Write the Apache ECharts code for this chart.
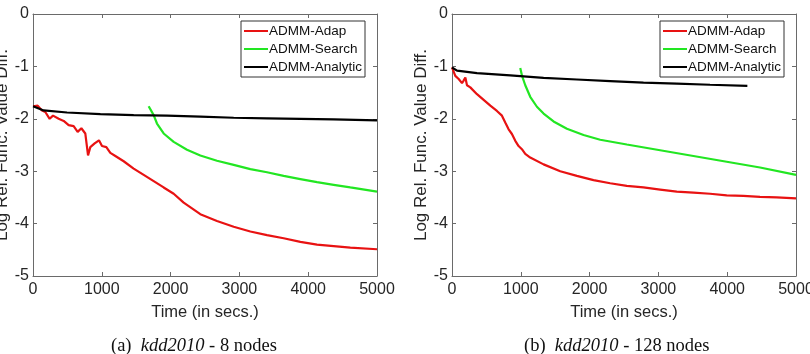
<!DOCTYPE html>
<html>
<head>
<meta charset="utf-8">
<script src="https://cdn.jsdelivr.net/npm/echarts@6/dist/echarts.min.js"></script>
<style>
  html, body { margin: 0; padding: 0; background: #fff; }
  #chart { width: 810px; height: 354px; }
</style>
</head>
<body>
<div id="chart"></div>
<script>
// 刻度
var xTicks = [0, 1000, 2000, 3000, 4000, 5000];
var yTicks = [-5, -4, -3, -2, -1, 0];
var seriesNames = ['ADMM-Adap', 'ADMM-Search', 'ADMM-Analytic'];

// (a) kdd2010 - 8 nodes : [time, log rel. diff]
var adap8 = [[0,-1.76],[68,-1.75],[131,-1.84],[179,-1.87],[242,-2.0],[291,-1.94],[373,-2.0],[446,-2.04],
  [518,-2.12],[591,-2.14],[649,-2.25],[703,-2.18],[760,-2.28],[800,-2.7],[833,-2.54],[896,-2.47],
  [959,-2.41],[1003,-2.52],[1066,-2.54],[1124,-2.65],[1197,-2.71],[1318,-2.81],[1463,-2.95],
  [1609,-3.07],[1754,-3.19],[1899,-3.31],[2045,-3.43],[2190,-3.6],[2432,-3.82],[2674,-3.95],
  [2917,-4.06],[3159,-4.15],[3401,-4.22],[3643,-4.28],[3886,-4.35],[4128,-4.4],[4370,-4.43],
  [4612,-4.46],[5000,-4.49]];
var search8 = [[1681,-1.76],[1754,-1.93],[1802,-2.09],[1899,-2.28],[2045,-2.44],[2238,-2.59],
  [2432,-2.7],[2674,-2.8],[2917,-2.88],[3159,-2.96],[3401,-3.02],[3643,-3.09],[3886,-3.15],
  [4128,-3.21],[4370,-3.26],[4612,-3.31],[5000,-3.39]];
var analytic8 = [[0,-1.76],[155,-1.84],[494,-1.88],[979,-1.91],[1463,-1.93],[1948,-1.94],
  [2432,-1.96],[2917,-1.98],[3401,-1.99],[3886,-2.0],[4370,-2.01],[5000,-2.03]];

// (b) kdd2010 - 128 nodes
var adap128 = [[0,-1.02],[24,-1.05],[48,-1.18],[97,-1.24],[145,-1.32],[169,-1.27],[194,-1.21],
  [218,-1.36],[266,-1.4],[363,-1.53],[460,-1.64],[557,-1.75],[653,-1.85],[726,-1.94],[774,-2.07],
  [823,-2.2],[871,-2.29],[920,-2.42],[968,-2.52],[1016,-2.58],[1065,-2.67],[1137,-2.74],
  [1331,-2.87],[1573,-3.0],[1815,-3.09],[2057,-3.17],[2299,-3.23],[2541,-3.28],[2783,-3.31],
  [3025,-3.35],[3267,-3.39],[3509,-3.41],[3751,-3.43],[3993,-3.46],[4235,-3.47],[4477,-3.49],
  [4719,-3.5],[5000,-3.52]];
var search128 = [[992,-1.03],[1016,-1.17],[1065,-1.36],[1137,-1.58],[1234,-1.77],[1331,-1.9],
  [1476,-2.05],[1670,-2.19],[1912,-2.31],[2154,-2.4],[2541,-2.49],[3025,-2.6],[3509,-2.71],
  [3993,-2.82],[4477,-2.93],[5000,-3.07]];
var analytic128 = [[0,-1.02],[73,-1.08],[363,-1.13],[847,-1.17],[1331,-1.22],[1815,-1.25],
  [2299,-1.28],[2783,-1.31],[3267,-1.33],[3751,-1.35],[4293,-1.37]];

var colors = ['#e81212', '#22e622', '#000000'];
var axisColor = '#6a6a6a';
var textColor = '#262626';
var sans = 'Liberation Sans';

var myChart = echarts.init(document.getElementById('chart'));

function xAx(grid, pos) {
  var main = pos === 'bottom';
  return {
    type: 'value', gridIndex: grid, position: pos,
    min: xTicks[0], max: xTicks[xTicks.length - 1], interval: 1000,
    name: main ? 'Time (in secs.)' : '', nameLocation: 'middle', nameGap: 28,
    nameTextStyle: { fontFamily: sans, fontSize: 16.5, color: textColor },
    axisLine: { show: true, onZero: false, lineStyle: { color: axisColor, width: 1 } },
    axisTick: { show: true, inside: true, length: 4, lineStyle: { color: axisColor } },
    axisLabel: { show: main, fontFamily: sans, fontSize: 16, color: textColor, margin: 6,
      showMaxLabel: true, showMinLabel: true,
      formatter: function (v) { return String(v); } },
    splitLine: { show: false }
  };
}
function yAx(grid, pos) {
  var main = pos === 'left';
  return {
    type: 'value', gridIndex: grid, position: pos,
    min: yTicks[0], max: yTicks[yTicks.length - 1], interval: 1,
    name: main ? 'Log Rel. Func. Value Diff.' : '', nameLocation: 'middle', nameGap: 22,
    nameTextStyle: { fontFamily: sans, fontSize: 17, color: textColor },
    axisLine: { show: true, onZero: false, lineStyle: { color: axisColor, width: 1 } },
    axisTick: { show: true, inside: true, length: 4, lineStyle: { color: axisColor } },
    axisLabel: { show: main, fontFamily: sans, fontSize: 16, color: textColor, margin: 4 },
    splitLine: { show: false }
  };
}
function line(name, data, idx, grid) {
  return {
    name: name, type: 'line', data: data,
    xAxisIndex: grid * 2, yAxisIndex: grid * 2,
    showSymbol: false, symbol: 'none', smooth: false, silent: true,
    lineStyle: { color: colors[idx], width: 2.2 },
    itemStyle: { color: colors[idx] }
  };
}
function legend(left) {
  return {
    orient: 'vertical', left: left, top: 21,
    data: seriesNames, icon: 'rect', itemWidth: 24, itemHeight: 2, itemGap: 4,
    padding: [3, 3, 3, 3], borderColor: '#333', borderWidth: 1, backgroundColor: '#fff',
    textStyle: { fontFamily: sans, fontSize: 13.5, color: '#111', padding: [0, 0, 0, -4] },
    selectedMode: false
  };
}
function caption(left, label, rest) {
  return {
    left: left, top: 332,
    text: '{n|(' + label + ')  }{i|kdd2010}{n| - ' + rest + '}',
    textStyle: { fontWeight: 'normal', rich: {
      n: { fontFamily: 'Liberation Serif', fontWeight: 'normal', fontSize: 18.5, color: '#111' },
      i: { fontFamily: 'Liberation Serif', fontWeight: 'normal', fontStyle: 'italic', fontSize: 18.5, color: '#111' }
    } }
  };
}

var option = {
  animation: false,
  backgroundColor: '#fff',
  title: [caption(106, 'a', '8 nodes'), caption(519, 'b', '128 nodes')],
  legend: [legend(241), legend(660)],
  grid: [
    { left: 33, top: 14, width: 344, height: 262, containLabel: false, outerBoundsMode: 'none' },
    { left: 452, top: 14, width: 344, height: 262, containLabel: false, outerBoundsMode: 'none' }
  ],
  xAxis: [xAx(0, 'bottom'), xAx(0, 'top'), xAx(1, 'bottom'), xAx(1, 'top')],
  yAxis: [yAx(0, 'left'), yAx(0, 'right'), yAx(1, 'left'), yAx(1, 'right')],
  series: [
    line('ADMM-Adap', adap8, 0, 0),
    line('ADMM-Search', search8, 1, 0),
    line('ADMM-Analytic', analytic8, 2, 0),
    line('ADMM-Adap', adap128, 0, 1),
    line('ADMM-Search', search128, 1, 1),
    line('ADMM-Analytic', analytic128, 2, 1)
  ]
};

myChart.setOption(option);
</script>
</body>
</html>
